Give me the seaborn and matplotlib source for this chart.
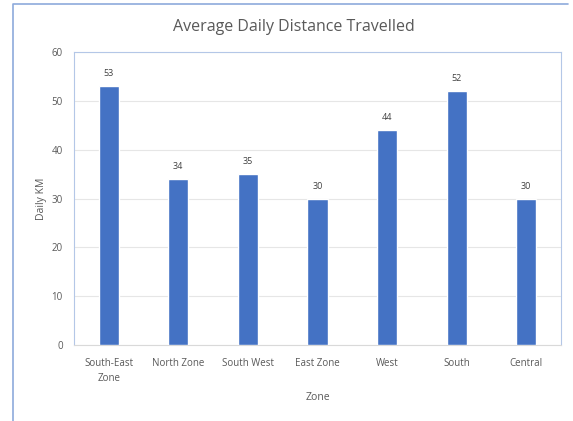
import seaborn as sns
import matplotlib.pyplot as plt
import pandas as pd
from matplotlib.lines import Line2D

zones = ["South-East\nZone", "North Zone", "South West", "East Zone", "West", "South", "Central"]
daily_km = [53, 34, 35, 30, 44, 52, 30]

df = pd.DataFrame({"Zone": zones, "Daily KM": daily_km})

sns.set_style("white")
plt.rcParams['font.family'] = ['Open Sans', 'DejaVu Sans']

fig = plt.figure(figsize=(5.73, 4.21), dpi=100)
ax = fig.add_axes([0.129, 0.1805, 0.850, 0.696])

sns.barplot(data=df, x="Zone", y="Daily KM", color="#4472C4", width=0.29,
            saturation=1, ax=ax, zorder=3)

for i, v in enumerate(daily_km):
    ax.text(i, v + 1.6, str(v), ha='center', va='bottom', fontsize=6.5, color='#404040')

ax.set_ylim(0, 60)
ax.set_yticks(range(0, 61, 10))
ax.yaxis.grid(True, color='#e6e6e6', linewidth=0.8, zorder=0)
ax.set_axisbelow(True)
for s in ax.spines.values():
    s.set_color('#b4c7e7')
    s.set_linewidth(0.8)
ax.spines['bottom'].set_color('#d9d9d9')
ax.tick_params(axis='both', length=0, labelsize=7, labelcolor='#595959')
ax.tick_params(axis='x', pad=9)
ax.tick_params(axis='y', pad=8)
for lbl in ax.get_xticklabels():
    lbl.set_linespacing(1.5)
ax.set_xlabel("Zone", fontsize=7.5, color='#595959', labelpad=6)
ax.set_ylabel("Daily KM", fontsize=7.5, color='#595959', labelpad=3)
fig.suptitle("Average Daily Distance Travelled", x=0.512, y=0.955, fontsize=11.5, color='#595959')

# chart-area border (top and left edges visible)
fig.lines.append(Line2D([13 / 573, 13 / 573, 568 / 573], [0, 1 - 4 / 421, 1 - 4 / 421],
                        transform=fig.transFigure, color='#8eaadb', linewidth=1.2))

fig.savefig("out.png", dpi=100)
